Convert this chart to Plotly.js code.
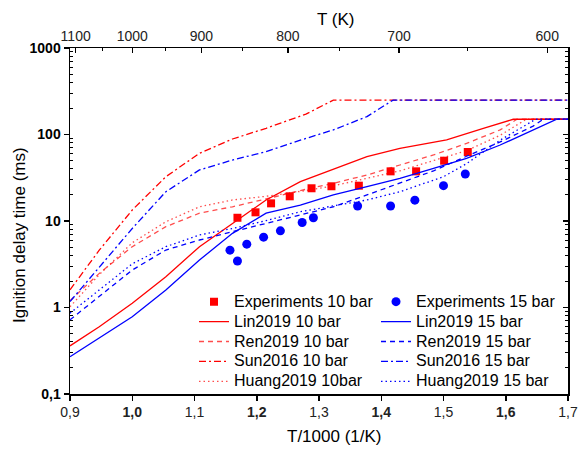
<!DOCTYPE html>
<html>
<head>
<meta charset="utf-8">
<script src="https://cdn.plot.ly/plotly-3.0.1.min.js"></script>
<style>html,body{margin:0;padding:0;background:#fff;}#chart{width:579px;height:449px;}</style>
</head>
<body>
<div id="chart"></div>
<script>
// ---------- data ----------
const exp10X = [1.169, 1.198, 1.223, 1.253, 1.288, 1.320, 1.364, 1.415, 1.456, 1.501, 1.539];
const exp10Y = [10.9, 12.6, 16.0, 19.3, 23.9, 25.2, 25.6, 37.5, 37.5, 49.8, 62.8];
const exp15X = [1.157, 1.169, 1.184, 1.211, 1.238, 1.273, 1.291, 1.362, 1.415, 1.454, 1.500, 1.535];
const exp15Y = [4.6, 3.45, 5.4, 6.5, 7.7, 9.6, 10.9, 14.9, 14.9, 17.4, 25.6, 34.9];

const lin10X = [0.9, 0.947, 1.0, 1.054, 1.108, 1.161, 1.215, 1.27, 1.323, 1.377, 1.43, 1.505, 1.564, 1.612, 1.7];
const lin10Y = [0.36, 0.60, 1.12, 2.27, 5.05, 9.4, 17.5, 28.5, 40, 55.4, 69.2, 86.4, 118, 150, 150];
const lin15X = [0.9, 0.947, 1.0, 1.054, 1.108, 1.161, 1.215, 1.27, 1.323, 1.377, 1.43, 1.484, 1.537, 1.591, 1.644, 1.682, 1.7];
const lin15Y = [0.27, 0.44, 0.78, 1.59, 3.54, 7.2, 12.3, 15.3, 20, 24.9, 31.1, 40.6, 53, 75.6, 113, 150, 150];

const ren10X = [0.9, 0.947, 1.0, 1.054, 1.108, 1.161, 1.215, 1.27, 1.323, 1.377, 1.43, 1.484, 1.537, 1.591, 1.618, 1.7];
const ren10Y = [1.2, 2.48, 5.05, 8.6, 12.3, 14.6, 18, 22.5, 27.3, 34, 44.4, 58, 79, 113, 150, 150];
const ren15X = [0.9, 0.947, 1.0, 1.054, 1.108, 1.161, 1.215, 1.268, 1.323, 1.377, 1.43, 1.484, 1.537, 1.591, 1.644, 1.66, 1.7];
const ren15Y = [0.72, 1.33, 2.71, 4.62, 6.03, 7.52, 9.4, 11.7, 14.6, 20, 27.3, 38, 56, 82, 125, 150, 150];

const sun10X = [0.9, 0.947, 1.0, 1.054, 1.108, 1.161, 1.215, 1.279, 1.323, 1.7];
const sun10Y = [1.6, 4.6, 13.4, 32.5, 60.6, 88.7, 118, 172, 250, 250];
const sun15X = [0.9, 0.947, 1.0, 1.054, 1.108, 1.161, 1.215, 1.27, 1.323, 1.377, 1.419, 1.7];
const sun15Y = [1.17, 2.96, 8.2, 21.8, 38.9, 50.7, 63.3, 86, 113, 161, 250, 250];

const huang10X = [0.9, 0.947, 1.0, 1.054, 1.108, 1.161, 1.215, 1.27, 1.323, 1.377, 1.43, 1.484, 1.537, 1.591, 1.633, 1.7];
const huang10Y = [1.02, 2.4, 5.6, 9.8, 14.6, 17.5, 19.3, 22, 25.5, 31, 38, 50, 65, 98, 150, 150];
const huang15X = [0.9, 0.947, 1.0, 1.054, 1.108, 1.161, 1.215, 1.27, 1.323, 1.377, 1.43, 1.5, 1.537, 1.591, 1.648, 1.7];
const huang15Y = [0.86, 1.6, 3.2, 5.05, 6.9, 8.2, 10.1, 12.8, 15, 17.5, 21.8, 32.5, 46, 86, 150, 150];

const seriesNames = ['Experiments 10 bar', 'Experiments 15 bar', 'Lin2019 10 bar', 'Lin2019 15 bar',
                     'Ren2019 10 bar', 'Ren2019 15 bar', 'Sun2016 10 bar', 'Sun2016 15 bar',
                     'Huang2019 10bar', 'Huang2019 15 bar'];

const xTickVals = [0.9, 1.0, 1.1, 1.2, 1.3, 1.4, 1.5, 1.6, 1.7];
const xTickText = ['0,9', '<b>1,0</b>', '1,1', '<b>1,2</b>', '1,3', '<b>1,4</b>', '1,5', '<b>1,6</b>', '1,7'];
const yTickVals = [0.1, 1, 10, 100, 1000];
const yTickText = ['0,1', '1', '10', '100', '1000'];
const topTempK = [1100, 1000, 900, 800, 700, 600];
const topMinorTempK = [1050, 950, 850, 750, 650];

// ---------- styling ----------
const RED = '#ff0000', RED_LIGHT = 'rgba(255,0,0,0.7)', BLUE = '#0000ff';
const FONT = 'Liberation Sans, Arial, sans-serif';
const DASH = '5px,4px', DOT = '1.5px,3px', DASHDOT = '7px,3px,2px,3px';

const yMinor = [];
[0.1, 1, 10, 100].forEach(d => { for (let k = 2; k <= 9; k++) yMinor.push(+(d * k).toPrecision(3)); });

const lg = s => '<span style="font-size:16px">' + s + '</span>';

function line(i, x, y, color, dash) {
  return {type: 'scatter', mode: 'lines', name: lg(seriesNames[i]), x: x, y: y,
          line: {color: color, width: 1.3, dash: dash}, hoverinfo: 'skip'};
}

const traces = [
  {type: 'scatter', mode: 'markers', name: lg(seriesNames[0]), x: exp10X, y: exp10Y,
   marker: {symbol: 'square', size: 8, color: RED}},
  {type: 'scatter', mode: 'markers', name: lg(seriesNames[1]), x: exp15X, y: exp15Y,
   marker: {symbol: 'circle', size: 9, color: BLUE}},
  line(2, lin10X, lin10Y, RED, 'solid'),
  line(3, lin15X, lin15Y, BLUE, 'solid'),
  line(4, ren10X, ren10Y, RED_LIGHT, DASH),
  line(5, ren15X, ren15Y, BLUE, DASH),
  line(6, sun10X, sun10Y, RED, DASHDOT),
  line(7, sun15X, sun15Y, BLUE, DASHDOT),
  line(8, huang10X, huang10Y, RED_LIGHT, DOT),
  line(9, huang15X, huang15Y, BLUE, DOT),
  {type: 'scatter', mode: 'lines', x: [], y: [], xaxis: 'x2', yaxis: 'y2', showlegend: false, hoverinfo: 'skip'}
];

const axisCommon = {showline: true, linecolor: '#000', linewidth: 1.5, showgrid: false, zeroline: false,
                    tickcolor: '#000', tickwidth: 1.5};

const layout = {
  width: 579, height: 449,
  margin: {l: 70, r: 11, t: 48, b: 55, pad: 0},
  paper_bgcolor: '#fff', plot_bgcolor: '#fff',
  font: {family: FONT, color: '#000', size: 14},
  showlegend: true,
  legend: {orientation: 'h', x: 0.249, xanchor: 'left', y: 0.31, yanchor: 'top',
           entrywidth: 137, entrywidthmode: 'pixels', bgcolor: 'rgba(0,0,0,0)',
           font: {family: FONT, size: 13, color: '#000'}, tracegroupgap: 0},
  xaxis: Object.assign({}, axisCommon, {
    range: [0.9, 1.7], tickmode: 'array', tickvals: xTickVals, ticktext: xTickText,
    ticks: 'outside', ticklen: 5, tickfont: {size: 14, color: '#222'}
  }),
  yaxis: Object.assign({}, axisCommon, {
    type: 'log', range: [-1, 3], tickmode: 'array', tickvals: yTickVals, ticktext: yTickText,
    ticks: 'outside', ticklen: 5, tickfont: {size: 14, weight: 'bold', color: '#000'},
    minor: {tickmode: 'array', tickvals: yMinor, ticks: 'inside', ticklen: 3, tickcolor: '#000', tickwidth: 1}
  }),
  xaxis2: Object.assign({}, axisCommon, {
    overlaying: 'x', side: 'top', anchor: 'y2', range: [0.9, 1.7],
    tickmode: 'array', tickvals: topTempK.map(t => 1000 / t), ticktext: topTempK.map(String),
    ticks: 'inside', ticklen: 5, tickfont: {size: 14, color: '#222'},
    minor: {tickmode: 'array', tickvals: topMinorTempK.map(t => 1000 / t), ticks: 'inside', ticklen: 3, tickcolor: '#000', tickwidth: 1}
  }),
  yaxis2: Object.assign({}, axisCommon, {
    overlaying: 'y', side: 'right', anchor: 'x2', type: 'log', range: [-1, 3],
    tickmode: 'array', tickvals: yTickVals, showticklabels: false,
    ticks: 'inside', ticklen: 5,
    minor: {tickmode: 'array', tickvals: yMinor, ticks: 'inside', ticklen: 3, tickcolor: '#000', tickwidth: 1}
  }),
  annotations: [
    {text: 'T (K)', xref: 'paper', yref: 'paper', x: 0.534, y: 1.081, showarrow: false,
     font: {size: 17, family: FONT}, xanchor: 'center', yanchor: 'middle'},
    {text: 'T/1000 (1/K)', xref: 'paper', yref: 'paper', x: 0.532, y: -0.124, showarrow: false,
     font: {size: 17, family: FONT}, xanchor: 'center', yanchor: 'middle'},
    {text: 'Ignition delay time (ms)', xref: 'paper', yref: 'paper', x: -0.10, y: 0.46, textangle: -90,
     showarrow: false, font: {size: 17, family: FONT}, xanchor: 'center', yanchor: 'middle'}
  ]
};

Plotly.newPlot('chart', traces, layout, {displayModeBar: false, staticPlot: true});
</script>
</body>
</html>
